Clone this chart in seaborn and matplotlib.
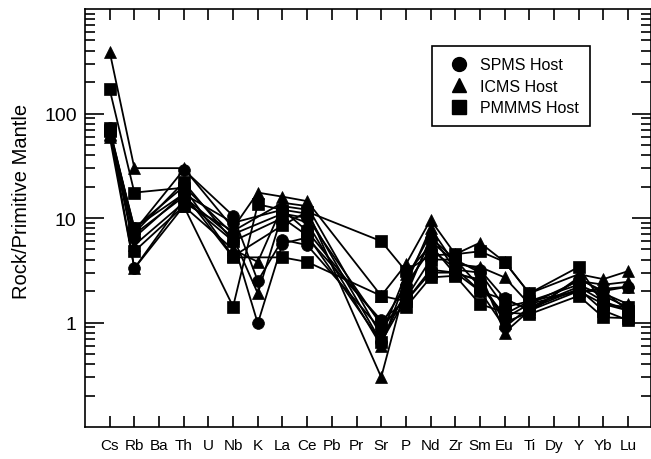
import numpy as np
import pandas as pd
import seaborn as sns
import matplotlib
matplotlib.use('Agg')
import matplotlib.pyplot as plt
from matplotlib.lines import Line2D
from matplotlib.ticker import FixedLocator, LogLocator, NullFormatter

nan = np.nan

# x axis: all elements, only some were measured
elements = ['Cs', 'Rb', 'Ba', 'Th', 'U', 'Nb', 'K', 'La', 'Ce', 'Pb', 'Pr',
            'Sr', 'P', 'Nd', 'Zr', 'Sm', 'Eu', 'Ti', 'Dy', 'Y', 'Yb', 'Lu']
measured = ['Cs', 'Rb', 'Th', 'Nb', 'K', 'La', 'Ce', 'Sr', 'P', 'Nd', 'Zr',
            'Sm', 'Eu', 'Ti', 'Y', 'Yb', 'Lu']

# rock / primitive mantle
spms_1 = [72, 7.5, 29, 10.5, 2.5, 6.2, 5.5, 0.85, 1.8, 6.5, 4.0, 3.0, 1.4, 1.6, 2.3, 1.8, 1.4]
spms_2 = [70, 3.3, 15, 6.0, 0.98, 5.7, 6.5, 1.05, 1.6, 3.2, 3.0, 2.5, 1.1, 1.5, 2.0, 2.1, 2.2]
spms_3 = [68, 6.5, 17, 9.0, nan, 12, 11, 0.65, 2.0, 6.0, 3.8, 3.2, 1.7, 1.3, 2.6, 2.0, 1.3]
spms_4 = [66, 8.0, 20, 7.0, nan, 11, 10, 0.95, 2.3, 5.0, 3.3, 2.0, 0.9, 1.4, 2.2, 1.6, 1.3]

icms_1 = [390, 30, 30, 8.0, 17.5, 16, 14.5, 1.8, 3.6, 9.6, 4.5, 5.8, 3.8, 1.9, 2.9, 2.6, 3.1]
icms_2 = [60, 3.3, 13, 5.0, 3.8, 13, 12, 0.30, 2.3, 8.0, 3.6, 3.4, 2.7, 1.5, 2.5, 2.3, 2.45]
icms_3 = [62, 7.0, 16, 6.5, 1.9, 11, 9.0, 0.60, 2.6, 7.0, 3.2, 3.0, 0.8, 1.3, 2.0, 2.0, 2.2]
icms_4 = [64, 5.5, 14, 7.5, nan, 14, 13, 0.75, 2.9, 5.5, 2.9, 2.6, 1.0, 1.25, 2.7, 1.9, 1.5]

pmmms_1 = [170, 17.5, 19.5, 4.3, nan, 8.5, 11.5, 6.0, 3.1, 4.4, 4.5, 4.8, 3.8, 1.9, 3.4, 1.5, 1.4]
pmmms_2 = [72, 4.8, 13, 1.42, 13.5, 12, 7.5, 1.0, 1.4, 2.7, 2.8, 1.5, 1.25, 1.2, 1.8, 1.12, 1.1]
pmmms_3 = [70, 8.0, 17, 4.2, nan, 4.2, 3.8, 1.8, 1.6, 3.0, 3.0, 2.0, 1.65, 1.35, 2.1, 1.3, 1.05]
pmmms_4 = [68, 7.2, 22, 6.0, nan, 10, 6.8, 0.65, 1.7, 4.0, 4.0, 2.2, 1.2, 1.6, 2.0, 1.5, 1.3]

groups = {
    'SPMS Host': [spms_1, spms_2, spms_3, spms_4],
    'ICMS Host': [icms_1, icms_2, icms_3, icms_4],
    'PMMMS Host': [pmmms_1, pmmms_2, pmmms_3, pmmms_4],
}
marker_map = {'SPMS Host': 'o', 'ICMS Host': '^', 'PMMMS Host': 's'}

# long form table, missing elements dropped so lines join across them
rows = []
for grp, samples in groups.items():
    for i, vals in enumerate(samples):
        for el, v in zip(measured, vals):
            rows.append({'group': grp, 'sample': f'{grp}-{i}',
                         'pos': elements.index(el), 'value': v})
df = pd.DataFrame(rows).dropna()

sns.set_style('ticks', {'xtick.direction': 'in', 'ytick.direction': 'in',
                        'text.color': 'black', 'axes.labelcolor': 'black',
                        'xtick.color': 'black', 'ytick.color': 'black'})
plt.rcParams['font.family'] = ['Liberation Sans', 'DejaVu Sans']

fig = plt.figure(figsize=(6.51, 4.60), dpi=100)
ax = fig.add_axes([85 / 651, 32 / 460, 566 / 651, 418 / 460])

sns.lineplot(data=df, x='pos', y='value', units='sample', estimator=None,
             style='group', style_order=list(groups), markers=marker_map,
             dashes=False, color='black', linewidth=1.3, markersize=8.5,
             markeredgecolor='black', markeredgewidth=0.5, legend=False,
             sort=True, ax=ax)

ax.set_yscale('log')
ax.set_ylim(0.1, 1000)
ax.set_xlim(-1, 21.93)
ax.yaxis.set_major_locator(FixedLocator([1, 10, 100]))
ax.set_yticklabels(['1', '10', '100'])
ax.yaxis.set_minor_locator(LogLocator(base=10, subs=np.arange(2, 10), numticks=20))
ax.yaxis.set_minor_formatter(NullFormatter())
ax.set_xticks(range(len(elements)))
ax.set_xticklabels(elements)

for s in ax.spines.values():
    s.set_linewidth(1.2)
    s.set_color('black')

ax.tick_params(axis='y', which='major', length=14, width=1.2, labelsize=14,
               pad=6, right=True, direction='in', color='black')
ax.tick_params(axis='y', which='minor', length=7, width=1.2, right=True,
               direction='in', color='black')
ax.tick_params(axis='x', length=8, width=1.2, top=True, labelsize=11, pad=8,
               direction='in', color='black')

ax.set_xlabel('')
ax.set_ylabel('Rock/Primitive Mantle', fontsize=14.5)
ax.yaxis.set_label_coords(-0.095, 0.542)

handles = [Line2D([], [], marker=marker_map[g], color='black', linestyle='none',
                  markersize=10) for g in groups]
leg = ax.legend(handles, list(groups), loc='upper left',
                bbox_to_anchor=(0.613, 0.911), frameon=True, fancybox=False,
                edgecolor='black', framealpha=1, fontsize=11.5, borderpad=0.7,
                handletextpad=0.3, labelspacing=0.4, borderaxespad=0)
leg.get_frame().set_linewidth(1.2)

fig.savefig('out.png', dpi=100)
